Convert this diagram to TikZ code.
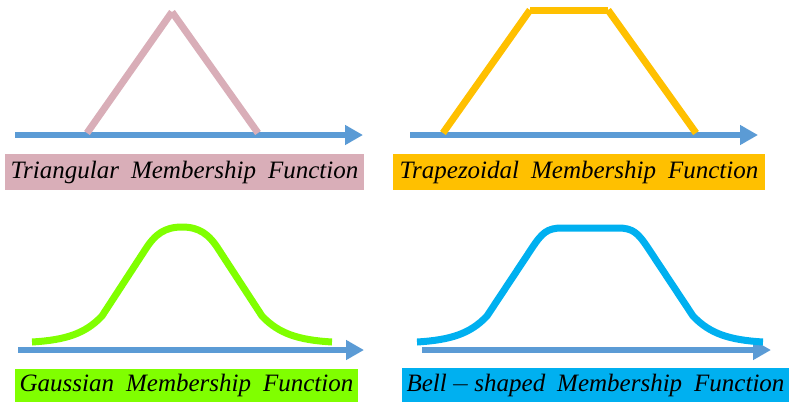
\documentclass[tikz,border=0pt]{standalone}
\usepackage{fontspec}
\setmainfont{Liberation Serif}
\usepackage{tikz}
\usetikzlibrary{arrows.meta}

\definecolor{axisblue}{RGB}{91,155,213}
\definecolor{tripink}{RGB}{217,174,184}
\definecolor{trapgold}{RGB}{255,192,0}
\definecolor{gaussgreen}{RGB}{128,255,0}
\definecolor{bellcyan}{RGB}{0,176,240}

\newcommand{\wgap}{\hspace{12pt}}

\begin{document}
\begin{tikzpicture}[
            x=1pt, y=-1pt,
            axis/.style={draw=axisblue, line width=6pt, -{Triangle[length=18pt,width=19pt]}},
            curve/.style={line width=7pt},
            namebox/.style={inner sep=0pt, font=\fontsize{25}{28}\selectfont\itshape}
        ]
            \useasboundingbox (0,0) rectangle (789,402);

            % axes
            \draw[axis] (15,135) -- (363,135);
            \draw[axis] (410,135) -- (758,135);
            \draw[axis] (18,350) -- (364,350);
            \draw[axis] (422,350) -- (771,350);

            % triangular
            \draw[curve, tripink] (87,133) -- (172,12);
            \draw[curve, tripink] (172,12) -- (258,133);

            % trapezoidal
            \draw[curve, trapgold] (443,133) -- (530,10);
            \draw[curve, trapgold] (530,10) -- (608,10);
            \draw[curve, trapgold] (608,10) -- (696,133);

            % gaussian
            \draw[curve, gaussgreen] (32,342) .. controls (65,340) and (85,334) .. (102,316)
                -- (145,250) .. controls (155,234) and (165,227) .. (182,227)
                .. controls (199,227) and (209,234) .. (219,250)
                -- (262,316) .. controls (279,334) and (299,340) .. (332,342);

            % bell-shaped
            \draw[curve, bellcyan] (417,342) .. controls (450,340) and (470,334) .. (487,316)
                -- (532,248) .. controls (542,233) and (547,228) .. (562,228)
                -- (618,228) .. controls (633,228) and (638,233) .. (648,248)
                -- (693,316) .. controls (710,334) and (730,340) .. (763,342);

            \node[namebox, fill=tripink, minimum width=359pt, minimum height=36pt] (trilabel) at (184.5,172) {Triangular\wgap Membership\wgap Function};
            \node[namebox, fill=trapgold, minimum width=372pt, minimum height=36pt] (traplabel) at (579,172) {Trapezoidal\wgap Membership\wgap Function};
            \node[namebox, fill=gaussgreen, minimum width=343pt, minimum height=33pt] (gausslabel) at (186.5,385.5) {Gaussian\wgap Membership\wgap Function};
            \node[namebox, fill=bellcyan, minimum width=387pt, minimum height=34pt] (belllabel) at (595.5,385) {Bell\,$-$\,shaped\wgap Membership\wgap Function};
        \end{tikzpicture}
\end{document}
